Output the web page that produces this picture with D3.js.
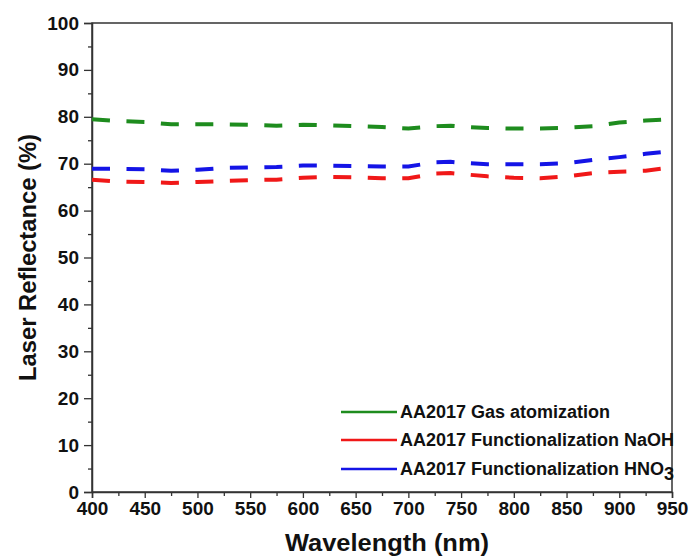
<!DOCTYPE html>
<html>
<head>
<meta charset="utf-8">
<script src="https://cdn.jsdelivr.net/npm/d3@7"></script>
<style>
  html, body { margin: 0; padding: 0; background: #fff; }
  svg { display: block; }
  text { font-family: "Liberation Sans", Arial, sans-serif; }
</style>
</head>
<body>
<div id="chart"></div>
<script>
const wavelengths = [400, 425, 450, 475, 500, 525, 550, 575, 600, 625, 650, 675, 700, 725, 740, 750, 775, 800, 825, 850, 875, 900, 925, 950];
const gasAtomization = [79.5, 79.1, 78.9, 78.4, 78.4, 78.4, 78.3, 78.1, 78.3, 78.2, 78.0, 77.8, 77.5, 78.0, 78.1, 77.9, 77.6, 77.5, 77.5, 77.7, 78.0, 78.8, 79.2, 79.5];
const funcNaOH = [66.6, 66.2, 66.1, 65.9, 66.1, 66.3, 66.5, 66.6, 67.0, 67.2, 67.1, 66.9, 66.9, 67.9, 68.0, 67.8, 67.3, 67.0, 66.9, 67.3, 68.0, 68.3, 68.5, 69.2];
const funcHNO3 = [68.9, 68.9, 68.8, 68.5, 68.7, 69.1, 69.2, 69.3, 69.6, 69.6, 69.5, 69.4, 69.4, 70.3, 70.4, 70.2, 69.9, 69.9, 69.9, 70.1, 70.8, 71.4, 72.1, 72.7];
const seriesNames = ["AA2017 Gas atomization", "AA2017 Functionalization NaOH", "AA2017 Functionalization HNO"];
const seriesColors = ["#1e8c1e", "#f01818", "#1414e6"];
const xTicks = [400, 450, 500, 550, 600, 650, 700, 750, 800, 850, 900, 950];
const yTicks = [0, 10, 20, 30, 40, 50, 60, 70, 80, 90, 100];

const W = 691, H = 558;
const m = { left: 92, right: 691 - 672, top: 23, bottom: 558 - 492 };
const svg = d3.select("#chart").append("svg").attr("width", W).attr("height", H);

const x = d3.scaleLinear().domain([400, 950]).range([m.left, W - m.right]);
const y = d3.scaleLinear().domain([0, 100]).range([H - m.bottom, m.top]);

const axisColor = "#333";
svg.append("rect")
  .attr("x", x(400)).attr("y", y(100))
  .attr("width", x(950) - x(400)).attr("height", y(0) - y(100))
  .attr("fill", "none").attr("stroke", axisColor).attr("stroke-width", 1.5);

const xMinor = d3.range(425, 950, 50);
const yMinor = d3.range(5, 100, 10);

svg.append("g").attr("transform", `translate(0,${y(0)})`)
  .call(d3.axisBottom(x).tickValues(xTicks).tickSize(6).tickPadding(4).tickFormat(d3.format("d")));
svg.append("g").attr("transform", `translate(0,${y(0)})`)
  .call(d3.axisBottom(x).tickValues(xMinor).tickSize(4).tickFormat(""))
  .call(g => g.select(".domain").remove());
svg.append("g").attr("transform", `translate(${x(400)},0)`)
  .call(d3.axisLeft(y).tickValues(yTicks).tickSize(8).tickPadding(5).tickFormat(d3.format("d")));
svg.append("g").attr("transform", `translate(${x(400)},0)`)
  .call(d3.axisLeft(y).tickValues(yMinor).tickSize(4).tickFormat(""))
  .call(g => g.select(".domain").remove());

svg.selectAll(".domain").attr("stroke", axisColor).attr("stroke-width", 1.5);
svg.selectAll(".tick line").attr("stroke", axisColor).attr("stroke-width", 1.3);
svg.selectAll(".tick text")
  .attr("font-family", "'Liberation Sans', Arial, sans-serif")
  .attr("font-size", 19).attr("font-weight", "bold").attr("fill", "#111");

svg.append("text")
  .attr("x", 387).attr("y", 551)
  .attr("text-anchor", "middle")
  .attr("font-size", 23).attr("font-weight", "bold").attr("fill", "#111")
  .attr("textLength", 204).attr("lengthAdjust", "spacingAndGlyphs")
  .text("Wavelength (nm)");
svg.append("text")
  .attr("transform", `translate(36,${(y(0) + y(100)) / 2}) rotate(-90)`)
  .attr("text-anchor", "middle")
  .attr("font-size", 23).attr("font-weight", "bold").attr("fill", "#111")
  .attr("textLength", 247).attr("lengthAdjust", "spacingAndGlyphs")
  .text("Laser Reflectance (%)");

const data = [gasAtomization, funcNaOH, funcHNO3];
const line = d3.line().x((d, i) => x(wavelengths[i])).y(d => y(d));
data.forEach((vals, k) => {
  svg.append("path")
    .datum(vals)
    .attr("d", line)
    .attr("fill", "none")
    .attr("stroke", seriesColors[k])
    .attr("stroke-width", 4)
    .attr("stroke-dasharray", "18,16.5");
});

const legY = [412, 440, 469];
seriesNames.forEach((name, k) => {
  svg.append("line")
    .attr("x1", 341).attr("x2", 397)
    .attr("y1", legY[k]).attr("y2", legY[k])
    .attr("stroke", seriesColors[k]).attr("stroke-width", 2.5);
  const t = svg.append("text")
    .attr("x", 400).attr("y", legY[k] + 6)
    .attr("font-size", 18).attr("font-weight", "bold").attr("fill", "#111")
    .text(name);
  if (k === 2) {
    t.append("tspan").attr("dy", 5).attr("font-size", 18).text("3");
  }
});
</script>
</body>
</html>
